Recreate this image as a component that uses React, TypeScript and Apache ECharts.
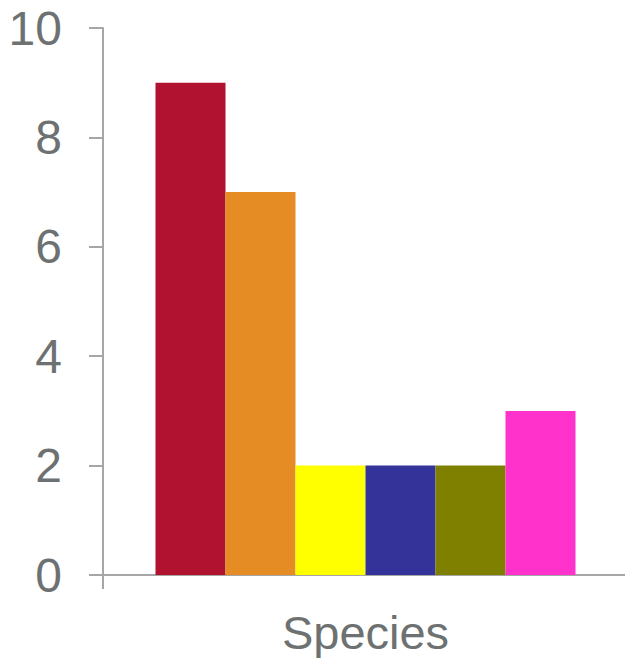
import React, { useEffect, useRef } from "react";
import * as echarts from "echarts";

const categories = ["Species"];
const seriesNames = ["A", "B", "C", "D", "E", "F"];
const seriesValues = [9, 7, 2, 2, 2, 3];
const seriesColors = ["#B01230", "#E68C25", "#FFFF00", "#333399", "#808000", "#FF33CC"];
const yTicks = [0, 2, 4, 6, 8, 10];

const axisColor = "#A6A6A6";
const labelColor = "#6E7171";
const fontFamily = "'Liberation Sans', Arial, sans-serif";

export default function App() {
  const ref = useRef<HTMLDivElement>(null);

  useEffect(() => {
    if (!ref.current) return;
    const chart = echarts.init(ref.current, undefined, { renderer: "svg" });
    chart.setOption({
      animation: false,
      // plot area runs a few pixels past the right edge so its closing tick is off-canvas
      grid: {
        left: 103,
        width: 525,
        top: 28,
        height: 547,
        containLabel: false,
        outerBoundsMode: "none",
      },
      xAxis: {
        type: "category",
        data: categories,
        boundaryGap: true,
        axisLine: { show: true, lineStyle: { color: axisColor, width: 2 } },
        axisTick: { show: true, length: 14, inside: false, lineStyle: { color: axisColor, width: 2 } },
        axisLabel: { fontSize: 47, color: labelColor, fontFamily, margin: 34 },
        splitLine: { show: false },
      },
      yAxis: {
        type: "value",
        min: yTicks[0],
        max: yTicks[yTicks.length - 1],
        interval: 2,
        axisLine: { show: true, lineStyle: { color: axisColor, width: 2 } },
        axisTick: { show: true, length: 14, lineStyle: { color: axisColor, width: 2 } },
        axisLabel: { fontSize: 48, color: labelColor, fontFamily, margin: 41 },
        splitLine: { show: false },
      },
      series: seriesNames.map((name, i) => ({
        name,
        type: "bar",
        data: [seriesValues[i]],
        barGap: "0%",
        barCategoryGap: "20%",
        itemStyle: { color: seriesColors[i] },
      })),
    });
    return () => chart.dispose();
  }, []);

  return (
    <div
      ref={ref}
      style={{ position: "fixed", left: 0, top: 0, width: 625, height: 658, background: "#fff" }}
    />
  );
}
